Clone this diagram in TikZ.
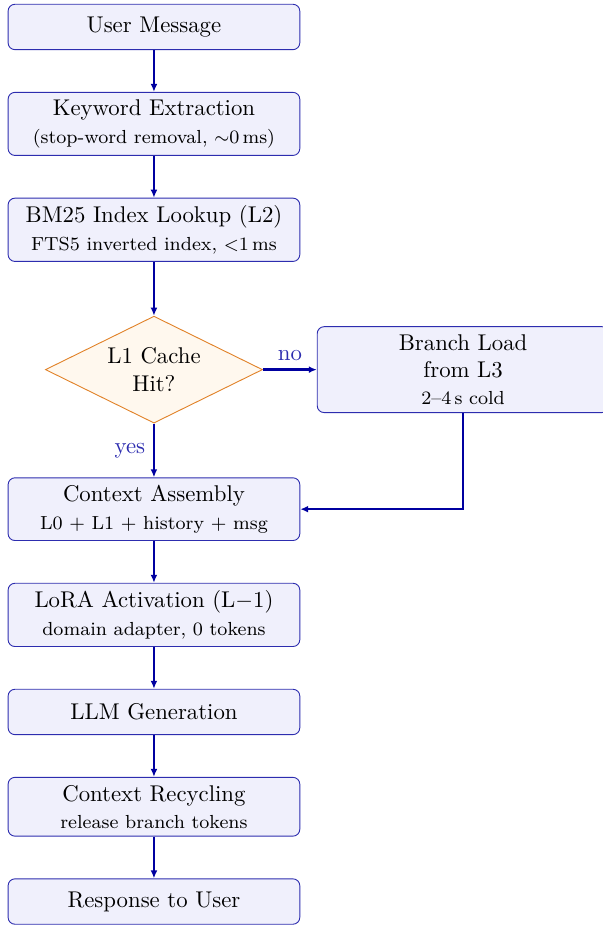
\documentclass[tikz,border=0pt]{standalone}
\usetikzlibrary{positioning,shapes.geometric,arrows.meta}
\definecolor{boxline}{RGB}{45,45,175}
\definecolor{boxfill}{RGB}{240,240,252}
\definecolor{flowline}{RGB}{0,0,160}
\definecolor{decline}{RGB}{225,130,40}
\definecolor{decfill}{RGB}{255,248,238}
\tikzset{
  >={Latex[length=3.5pt,width=3pt]},
  stage/.style={draw=boxline, fill=boxfill, rounded corners=3pt,
    minimum width=4.5cm, minimum height=0.7cm, align=center},
  decision/.style={diamond, draw=decline, fill=decfill, aspect=2,
    minimum width=3.35cm, minimum height=1.65cm, align=center, inner sep=1pt},
  flow/.style={->, line width=1.1pt, draw=flowline},
  tag/.style={text=boxline},
}
\newcommand{\sub}[1]{{\fontsize{8.3}{10}\selectfont #1}}

\begin{document}
\begin{tikzpicture}[node distance=0.645cm]
    \useasboundingbox (0,0) rectangle (9.3,-14.27);
    % main column
    \node[stage] (msg) at (2.375,-0.416) {User Message};
    \node[stage, below=of msg] (kw) {Keyword Extraction\\\sub{(stop-word removal, $\sim$0\,ms)}};
    \node[stage, below=of kw] (bm) {BM25 Index Lookup (L2)\\\sub{FTS5 inverted index, $<$1\,ms}};
    \node[decision, below=0.83cm of bm] (hit) {L1 Cache\\Hit?};
    \node[stage, right=0.83cm of hit] (branch) {Branch Load\\from L3\\\sub{2--4\,s cold}};
    \node[stage, below=0.83cm of hit] (ctx) {Context Assembly\\\sub{L0 + L1 + history + msg}};
    \node[stage, below=of ctx] (lora) {LoRA Activation (L$-$1)\\\sub{domain adapter, 0 tokens}};
    \node[stage, below=of lora] (llm) {LLM Generation};
    \node[stage, below=of llm] (rec) {Context Recycling\\\sub{release branch tokens}};
    \node[stage, below=of rec] (resp) {Response to User};
    % connectors
    \draw[flow] (msg) -- (kw);
    \draw[flow] (kw) -- (bm);
    \draw[flow] (bm) -- (hit);
    \draw[flow] (hit) -- node[above, tag]{no} (branch);
    \draw[flow] (hit) -- node[left, tag]{yes} (ctx);
    \draw[flow] (branch) |- (ctx);
    \draw[flow] (ctx) -- (lora);
    \draw[flow] (lora) -- (llm);
    \draw[flow] (llm) -- (rec);
    \draw[flow] (rec) -- (resp);
\end{tikzpicture}
\end{document}
